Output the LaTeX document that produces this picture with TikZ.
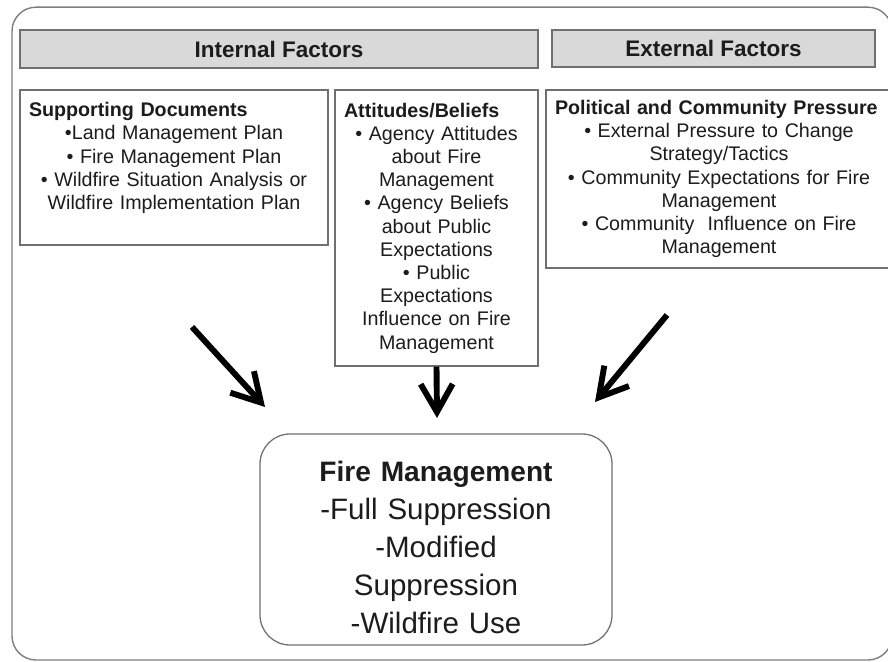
\documentclass[tikz,border=0pt]{standalone}
\usepackage{fontspec}
\setmainfont{Liberation Sans}
\usetikzlibrary{arrows.meta}

\definecolor{hdrgray}{RGB}{217,217,217}
\definecolor{linegray}{RGB}{112,112,112}
\definecolor{inkdark}{RGB}{28,28,28}

\begin{document}
\begin{tikzpicture}[
  factor/.style={draw=linegray, line width=1pt, fill=hdrgray, inner sep=0pt,
    font=\fontsize{16}{19}\selectfont\bfseries, text=inkdark},
  textbox/.style={draw=linegray, line width=0.9pt, fill=white, align=center,
    inner xsep=0.225cm, inner ysep=0.1cm, text=inkdark,
    font=\fontsize{14}{16.5}\selectfont},
  outcome/.style={draw=linegray, line width=0.9pt, rounded corners=0.75cm,
    align=center, inner xsep=0pt, text width=8.8cm, minimum height=5.275cm,
    text=inkdark, font=\fontsize{21}{27}\selectfont},
  push/.style={line width=4.2pt, -{Straight Barb[length=0.7cm, width=0.8cm]}}
]
  \useasboundingbox (0,0) rectangle (22.2,16.55);
  \clip (0,0) rectangle (22.2,16.55);
  % frame round everything
  \draw[linegray!90, line width=1pt, rounded corners=0.6cm] (0.3,0.05) rectangle (22.3,16.37);

  % column headers
  \node[factor, minimum width=12.95cm, minimum height=0.95cm] (internal) at (6.975,15.325) {Internal Factors};
  \node[factor, minimum width=8.075cm, minimum height=0.925cm] (external) at (17.8375,15.3375) {External Factors};

  % factor boxes
  \node[textbox, text width=7.25cm, minimum height=3.875cm] (docs) at (4.35,12.3625) {%
    \makebox[\linewidth][l]{\textbf{Supporting Documents}}\\
    •Land Management Plan\\
    • Fire Management Plan\\
    • Wildfire Situation Analysis or\\
    Wildfire Implementation Plan\\
    \mbox{}};
  \node[textbox, text width=4.625cm, minimum height=6.9cm] (beliefs) at (10.9125,10.85) {%
    \makebox[\linewidth][l]{\textbf{Attitudes/Beliefs}}\\
    • Agency Attitudes\\
    about Fire\\
    Management\\
    • Agency Beliefs\\
    about Public\\
    Expectations\\
    • Public\\
    Expectations\\
    Influence on Fire\\
    Management};
  \node[textbox, text width=8.2cm, minimum height=4.45cm] (pressure) at (17.975,12.075) {%
    \makebox[\linewidth][l]{\textbf{Political and Community Pressure}}\\
    • External Pressure to Change\\
    Strategy/Tactics\\
    • Community Expectations for Fire\\
    Management\\
    • Community\ \ Influence on Fire\\
    Management};

  % result
  \node[outcome] (firemgmt) at (10.9,3.0625) {%
    \rule{0pt}{26pt}{\fontsize{20}{27}\selectfont\bfseries Fire Management}\\
    -Full Suppression\\
    -Modified\\
    Suppression\\
    -Wildfire Use};

  % arrows into the result
  \coordinate (docstail) at (4.8,8.375);
  \coordinate (docshead) at (6.625,6.375);
  \coordinate (beliefshead) at (10.925,6.1);
  \coordinate (pressuretail) at (16.675,8.675);
  \coordinate (pressurehead) at (14.875,6.5);
  \draw[push] (docstail) -- (docshead);
  \draw[push] (beliefs.south) -- (beliefshead);
  \draw[push] (pressuretail) -- (pressurehead);
\end{tikzpicture}
\end{document}
